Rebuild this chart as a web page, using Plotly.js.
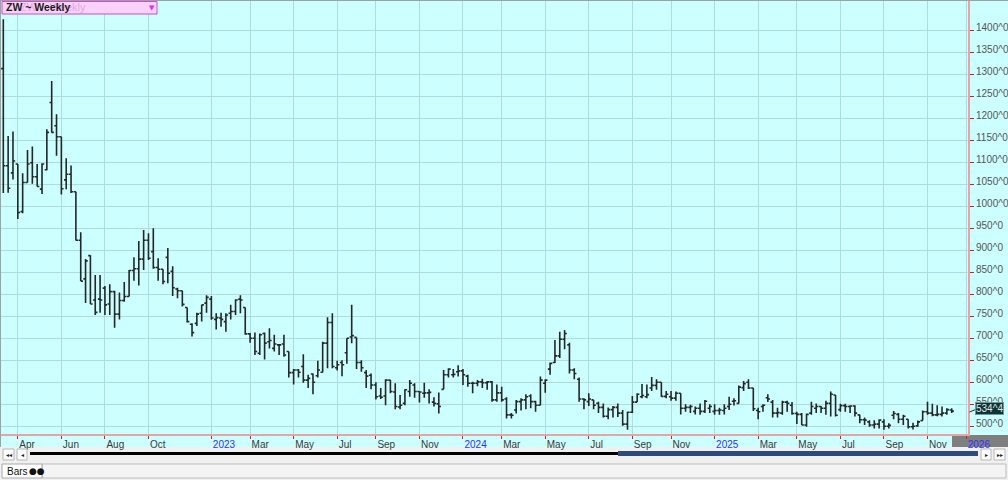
<!DOCTYPE html>
<html>
<head>
<meta charset="utf-8">
<script src="https://cdn.plot.ly/plotly-3.0.1.min.js"></script>
<style>
  html, body { margin: 0; padding: 0; background: #ccffff; }
  #chart { width: 1008px; height: 480px; }
</style>
</head>
<body>
<div id="chart"></div>
<script>
// ---- Data (weekly bars, ZW wheat futures) ----
const firstWeek = '2022-03-11';   // Friday of the first weekly bar

const openP = [
1313,1092,1076,1096,988,1054,1099,1067,1039,1083,
1236,1183,1158,1060,1073,1033,923,835,888,787,
789,814,778,806,755,786,795,854,858,880,
923,897,861,857,884,852,812,808,770,732,
734,757,780,789,743,746,738,757,761,789,
770,710,700,666,711,692,677,685,687,670,
622,628,636,605,619,615,623,689,736,633,
645,667,703,702,645,622,616,594,569,569,
605,578,544,552,579,594,579,575,576,555,
551,584,617,617,624,626,614,598,598,601,
599,601,560,576,562,526,537,556,560,569,
556,548,598,630,645,660,698,685,628,607,
562,556,560,552,543,523,538,543,530,505,
532,555,567,567,587,593,600,568,567,564,
575,541,543,534,541,534,541,534,536,536,
545,557,552,588,600,587,536,545,565,555,
530,530,555,548,529,527,503,530,541,545,
541,552,571,538,547,545,546,526,515,510,
503,505,510,500,525,527,516,516,499,501,
513,533,530,526,527,530,537
];
const highP = [
1425,1160,1170,1096,1075,1128,1136,1096,1098,1175,
1285,1209,1158,1109,1093,1033,941,880,889,844,
844,819,823,808,804,828,855,884,921,946,
939,950,882,857,905,864,815,808,770,734,
758,776,798,796,757,758,757,776,789,798,
770,712,713,711,713,723,708,687,708,670,
630,630,664,617,620,649,692,748,757,649,
650,700,776,702,650,628,620,600,587,607,
605,598,571,584,605,598,579,599,584,566,
577,628,632,630,639,630,617,601,605,608,
603,603,595,590,566,530,560,564,573,573,
558,613,607,645,696,715,719,690,632,611,
564,575,560,556,552,543,546,552,537,533,
569,575,596,595,612,607,600,580,580,579,
575,550,549,545,552,560,550,550,542,550,
567,564,593,603,607,587,542,550,573,560,
542,558,558,555,533,530,529,556,552,546,
558,579,571,551,551,548,548,526,520,514,
514,516,516,507,535,530,526,516,508,513,
536,556,551,548,545,541,541
];
const lowP = [
1030,1031,1061,971,984,1054,1051,1045,1028,1082,
1167,1115,1027,1039,1030,922,830,780,778,753,
758,753,753,724,743,783,795,831,820,855,
878,858,831,823,825,796,791,772,736,704,
728,738,758,742,720,726,715,743,753,757,
708,690,662,662,652,677,670,662,658,611,
595,611,599,587,573,611,622,632,632,627,
614,642,689,630,624,587,584,561,562,548,
575,539,539,548,567,565,554,565,552,545,
529,584,611,611,613,594,590,575,591,587,
583,556,556,556,518,518,529,536,539,541,
533,548,576,617,644,655,675,620,607,556,
539,546,539,530,520,516,520,521,501,492,
530,555,564,564,580,583,567,564,558,558,
527,533,530,527,526,530,530,526,526,527,
537,547,552,580,585,535,516,533,555,520,
520,526,533,526,505,503,499,526,530,530,
526,522,522,533,533,530,522,507,503,499,
495,495,492,495,516,507,503,495,493,499,
513,526,523,523,522,526,530
];
const closeP = [
1092,1041,1103,986,1054,1096,1067,1045,1096,1168,
1168,1158,1040,1073,1033,923,830,876,778,759,
787,776,806,755,786,795,854,858,880,923,
882,861,857,829,848,815,808,777,738,713,
755,776,793,746,747,743,753,761,787,787,
710,700,670,708,689,695,687,685,662,622,
628,623,605,609,600,628,689,736,636,640,
640,700,706,645,633,614,594,567,566,605,
579,545,548,583,598,579,578,576,577,552,
545,617,630,618,626,617,598,598,601,599,
601,560,576,560,526,525,556,560,567,556,
548,605,605,643,660,698,711,628,620,562,
560,562,548,543,523,538,543,530,505,532,
555,573,570,572,593,600,568,573,564,575,
541,543,545,541,534,557,545,536,537,541,
550,558,589,597,587,540,533,548,562,530,
531,555,552,529,527,503,527,545,545,541,
552,573,525,547,545,546,530,515,514,503,
505,514,500,502,529,516,523,499,500,510,
533,530,526,527,530,538,534.5
];

const tickMonths = ['2022-04','2022-06','2022-08','2022-10','2023-01','2023-03','2023-05','2023-07','2023-09','2023-11',
                    '2024-01','2024-03','2024-05','2024-07','2024-09','2024-11','2025-01','2025-03','2025-05','2025-07',
                    '2025-09','2025-11','2026-01'];
const tickLabels = ['Apr','Jun','Aug','Oct','2023','Mar','May','Jul','Sep','Nov',
                    '2024','Mar','May','Jul','Sep','Nov','2025','Mar','May','Jul',
                    'Sep','Nov','2026'];
const yTicks = [500,550,600,650,700,750,800,850,900,950,1000,1050,1100,1150,1200,1250,1300,1350,1400];
const yTickText = yTicks.map(v => v + '^0');
const lastLabel = '534^4';
const titleText = 'ZW ~ Weekly';

// ---- weekly dates (Friday of each bar) ----
const weekDates = [];
{
  const p = firstWeek.split('-').map(Number);
  for (let i = 0; i < openP.length; i++) {
    weekDates.push(new Date(Date.UTC(p[0], p[1] - 1, p[2] + 7 * i)).toISOString().slice(0, 10));
  }
}
// tick at first weekly bar (Friday) of each labelled month
function firstFriday(ym) {
  const [y, m] = ym.split('-').map(Number);
  const d = new Date(Date.UTC(y, m - 1, 1));
  const off = (5 - d.getUTCDay() + 7) % 7;
  return new Date(Date.UTC(y, m - 1, 1 + off)).toISOString().slice(0, 10);
}
const tickVals = tickMonths.map(firstFriday);
const tickText = tickLabels.map(t => /^\d{4}$/.test(t) ? '<span style="color:#3030ff">' + t + '</span>' : t);

// ---- pixel helpers for decoration placement ----
const PX = px => (px - 1) / 967;
const PY = py => (434 - py) / 433;

const FONT = 'Liberation Sans, Arial, sans-serif';

const shapes = [
  // 2026 grey box under label
  {type:'rect', xref:'paper', yref:'paper', x0:PX(952), x1:PX(1008), y0:PY(435), y1:PY(447),
   fillcolor:'#7f7f7f', line:{width:0}, layer:'below'},
  // scroll strip
  {type:'rect', xref:'paper', yref:'paper', x0:PX(0), x1:PX(1008), y0:PY(447), y1:PY(462),
   fillcolor:'#f0f0f0', line:{width:0}, layer:'below'},
  {type:'rect', xref:'paper', yref:'paper', x0:PX(3), x1:PX(14), y0:PY(449), y1:PY(460),
   fillcolor:'#fbfbfb', line:{color:'#b8b8b8', width:1}},
  {type:'rect', xref:'paper', yref:'paper', x0:PX(17), x1:PX(27), y0:PY(449), y1:PY(460),
   fillcolor:'#fbfbfb', line:{color:'#b8b8b8', width:1}},
  {type:'rect', xref:'paper', yref:'paper', x0:PX(981), x1:PX(991), y0:PY(449), y1:PY(460),
   fillcolor:'#fbfbfb', line:{color:'#b8b8b8', width:1}},
  {type:'rect', xref:'paper', yref:'paper', x0:PX(994), x1:PX(1005), y0:PY(449), y1:PY(460),
   fillcolor:'#fbfbfb', line:{color:'#b8b8b8', width:1}},
  {type:'line', xref:'paper', yref:'paper', x0:PX(30), x1:PX(618), y0:PY(453.5), y1:PY(453.5),
   line:{color:'#000000', width:3}},
  {type:'rect', xref:'paper', yref:'paper', x0:PX(618), x1:PX(978), y0:PY(451), y1:PY(456),
   fillcolor:'#2d4a78', line:{width:0}},
  // bottom panel
  {type:'rect', xref:'paper', yref:'paper', x0:PX(0), x1:PX(1008), y0:PY(462), y1:PY(480),
   fillcolor:'#f0f0f0', line:{width:0}},
  {type:'rect', xref:'paper', yref:'paper', x0:PX(42), x1:PX(1006), y0:PY(464), y1:PY(478),
   fillcolor:'#f4f4f4', line:{color:'#bdbdbd', width:1}},
  {type:'rect', xref:'paper', yref:'paper', x0:PX(2), x1:PX(42), y0:PY(464), y1:PY(478),
   fillcolor:'#ffffff', line:{color:'#a8a8a8', width:1}},
  // outer borders
  {type:'line', xref:'paper', yref:'paper', x0:PX(0), x1:PX(1008), y0:PY(0.5), y1:PY(0.5),
   line:{color:'#a0a0a0', width:1}},
  {type:'line', xref:'paper', yref:'paper', x0:PX(0.5), x1:PX(0.5), y0:PY(0), y1:PY(447),
   line:{color:'#a0a0a0', width:1}},
  // title box
  {type:'rect', xref:'paper', yref:'paper', x0:PX(2), x1:PX(157), y0:PY(14), y1:PY(1.5),
   fillcolor:'#f8d2f8', line:{color:'#c850c8', width:1}},
  // last price pointer
  {type:'line', xref:'paper', yref:'y', x0:PX(969.5), x1:PX(975), y0:closeP[closeP.length-1] - 2, y1:closeP[closeP.length-1] + 3,
   line:{color:'#2a2a2a', width:1}}
];

const annotations = [
  {xref:'paper', yref:'paper', x:PX(18), y:PY(7.5), xanchor:'left', yanchor:'middle', showarrow:false,
   text:titleText, font:{family:FONT, size:11, color:'#e6a6e6'}},
  {xref:'paper', yref:'paper', x:PX(4), y:PY(7.5), xanchor:'left', yanchor:'middle', showarrow:false,
   text:'<b>' + titleText + '</b>', font:{family:FONT, size:10.5, color:'#1a1a1a'}},
  {xref:'paper', yref:'paper', x:PX(151.5), y:PY(8), xanchor:'center', yanchor:'middle', showarrow:false,
   text:'▼', font:{family:'DejaVu Sans', size:7, color:'#dd30dd'}},
  {xref:'paper', yref:'y', x:PX(975), y:closeP[closeP.length-1], yshift:3, xanchor:'left', yanchor:'middle', showarrow:false,
   text:lastLabel, bgcolor:'#0c3636', bordercolor:'#6a9a9a', borderwidth:1, borderpad:0,
   font:{family:FONT, size:10, color:'#e4e4e4'}},
  {xref:'paper', yref:'paper', x:PX(8.5), y:PY(454.5), xanchor:'center', yanchor:'middle', showarrow:false,
   text:'◂◂', font:{family:'DejaVu Sans', size:6, color:'#222'}},
  {xref:'paper', yref:'paper', x:PX(22), y:PY(454.5), xanchor:'center', yanchor:'middle', showarrow:false,
   text:'◂', font:{family:'DejaVu Sans', size:6, color:'#222'}},
  {xref:'paper', yref:'paper', x:PX(986), y:PY(454.5), xanchor:'center', yanchor:'middle', showarrow:false,
   text:'▸', font:{family:'DejaVu Sans', size:6, color:'#222'}},
  {xref:'paper', yref:'paper', x:PX(999.5), y:PY(454.5), xanchor:'center', yanchor:'middle', showarrow:false,
   text:'▸▸', font:{family:'DejaVu Sans', size:6, color:'#222'}},
  {xref:'paper', yref:'paper', x:PX(5), y:PY(471), xanchor:'left', yanchor:'middle', showarrow:false,
   text:'Bars', font:{family:FONT, size:10, color:'#111'}},
  {xref:'paper', yref:'paper', x:PX(27), y:PY(471), xanchor:'left', yanchor:'middle', showarrow:false,
   text:'●●', font:{family:'DejaVu Sans', size:9, color:'#111'}}
];

const layout = {
  width: 1008, height: 480,
  margin: {l: 1, r: 40, t: 1, b: 46, pad: 0},
  paper_bgcolor: '#ccffff',
  plot_bgcolor: '#ccffff',
  showlegend: false,
  font: {family: FONT, size: 10, color: '#444'},
  xaxis: {
    type: 'date',
    range: ['2022-03-07 16:00', '2026-01-04 14:00'],
    rangeslider: {visible: false},
    tickmode: 'array', tickvals: tickVals, ticktext: tickText,
    ticklabelposition: 'outside right',
    ticks: 'outside', ticklen: 3, tickwidth: 1, tickcolor: '#e01818',
    showline: true, linecolor: '#e8a4a4', linewidth: 2,
    showgrid: true, gridcolor: '#b0dcdc', gridwidth: 1,
    zeroline: false,
    tickfont: {family: FONT, size: 10, color: '#3a3a3a'},
    fixedrange: true
  },
  yaxis: {
    side: 'right',
    range: [482.5, 1466.6],
    tickmode: 'array', tickvals: yTicks, ticktext: yTickText,
    ticks: 'outside', ticklen: 4, tickwidth: 1, tickcolor: '#e01818',
    ticklabelshift: -3,
    showline: true, linecolor: '#e8a4a4', linewidth: 2,
    showgrid: true, gridcolor: '#b0dcdc', gridwidth: 1,
    zeroline: false,
    tickfont: {family: FONT, size: 10, color: '#555'},
    fixedrange: true
  },
  shapes: shapes,
  annotations: annotations
};

const trace = {
  type: 'ohlc',
  x: weekDates,
  open: openP, high: highP, low: lowP, close: closeP,
  increasing: {line: {color: '#262626', width: 1.6}},
  decreasing: {line: {color: '#262626', width: 1.6}},
  tickwidth: 0.45,
  hoverinfo: 'skip'
};

Plotly.newPlot('chart', [trace], layout, {staticPlot: true, displayModeBar: false});
</script>
</body>
</html>
